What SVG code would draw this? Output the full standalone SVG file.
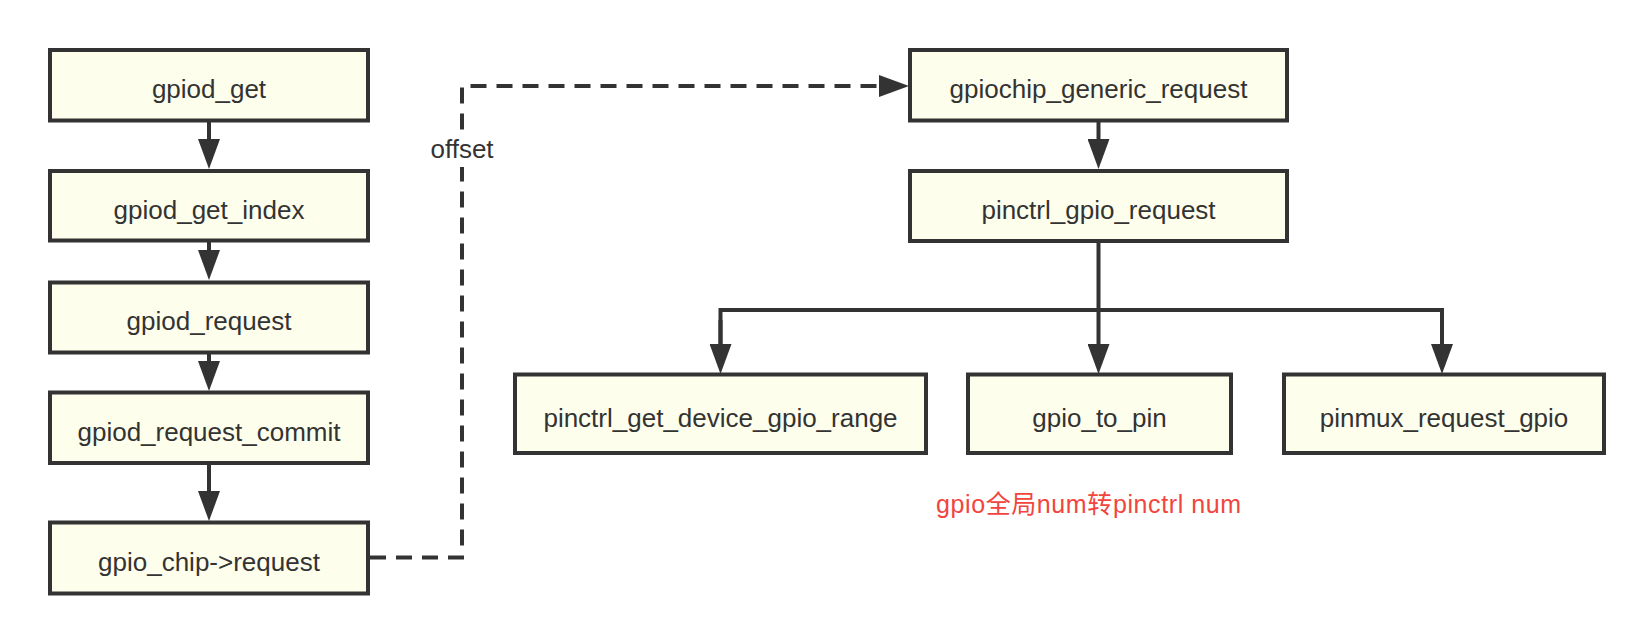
<svg xmlns="http://www.w3.org/2000/svg" width="1651" height="644" viewBox="0 0 1651 644">
<style>
.box{fill:#fefeec;stroke:#333;stroke-width:4}
.lbl{font-family:"Liberation Sans",Arial,sans-serif;font-size:26px;fill:#333;text-anchor:middle}
.edge{fill:none;stroke:#333;stroke-width:4}
.dash{fill:none;stroke:#333;stroke-width:4;stroke-dasharray:16 10}
.note{font-family:"Liberation Sans","Noto Sans CJK SC",sans-serif;font-size:25px;fill:#f2453d;letter-spacing:0.6px}
</style>
<defs>
<marker id="arr" viewBox="0 0 30 22" refX="2" refY="11" markerWidth="30" markerHeight="22" markerUnits="userSpaceOnUse" orient="auto">
<path d="M0,0 L30,11 L0,22 Z" fill="#333" stroke="none"/>
</marker>
</defs>
<rect width="1651" height="644" fill="#fff"/>
<g id="connectors">
<line class="edge" x1="209" y1="121" x2="209" y2="141" marker-end="url(#arr)"/>
<line class="edge" x1="209" y1="241" x2="209" y2="252" marker-end="url(#arr)"/>
<line class="edge" x1="209" y1="353" x2="209" y2="363" marker-end="url(#arr)"/>
<line class="edge" x1="209" y1="463" x2="209" y2="493" marker-end="url(#arr)"/>
<path class="dash" d="M370,557.5 H462 V86 H881" marker-end="url(#arr)"/>
<rect x="428" y="133" width="68" height="34" fill="#fff"/>
<text class="lbl" x="462" y="158">offset</text>
<line class="edge" x1="1098.5" y1="121" x2="1098.5" y2="141" marker-end="url(#arr)"/>
<line class="edge" x1="1098.5" y1="241" x2="1098.5" y2="346" marker-end="url(#arr)"/>
<path class="edge" d="M720.5,346 V310 H1442 V346" marker-end="url(#arr)"/>
<line class="edge" x1="720.5" y1="320" x2="720.5" y2="346" marker-end="url(#arr)"/>
</g>
<g id="n1"><rect class="box" x="50" y="50" width="318" height="70.5"/><text class="lbl" x="209" y="98">gpiod_get</text></g>
<g id="n2"><rect class="box" x="50" y="171" width="318" height="69.5"/><text class="lbl" x="209" y="219">gpiod_get_index</text></g>
<g id="n3"><rect class="box" x="50" y="282.5" width="318" height="70"/><text class="lbl" x="209" y="330">gpiod_request</text></g>
<g id="n4"><rect class="box" x="50" y="392.5" width="318" height="70.5"/><text class="lbl" x="209" y="441">gpiod_request_commit</text></g>
<g id="n5"><rect class="box" x="50" y="522.5" width="318" height="71"/><text class="lbl" x="209" y="571">gpio_chip-&gt;request</text></g>
<g id="n6"><rect class="box" x="910" y="50" width="377" height="70.5"/><text class="lbl" x="1098.5" y="98">gpiochip_generic_request</text></g>
<g id="n7"><rect class="box" x="910" y="171" width="377" height="70"/><text class="lbl" x="1098.5" y="219">pinctrl_gpio_request</text></g>
<g id="n8"><rect class="box" x="515" y="374.5" width="411" height="78.5"/><text class="lbl" x="720.5" y="427">pinctrl_get_device_gpio_range</text></g>
<g id="n9"><rect class="box" x="968" y="374.5" width="263" height="78.5"/><text class="lbl" x="1099.5" y="427">gpio_to_pin</text></g>
<g id="n10"><rect class="box" x="1284" y="374.5" width="320" height="78.5"/><text class="lbl" x="1444" y="427">pinmux_request_gpio</text></g>
<g id="note"><text class="note" x="936" y="513">gpio全局num转pinctrl num</text></g>
</svg>
